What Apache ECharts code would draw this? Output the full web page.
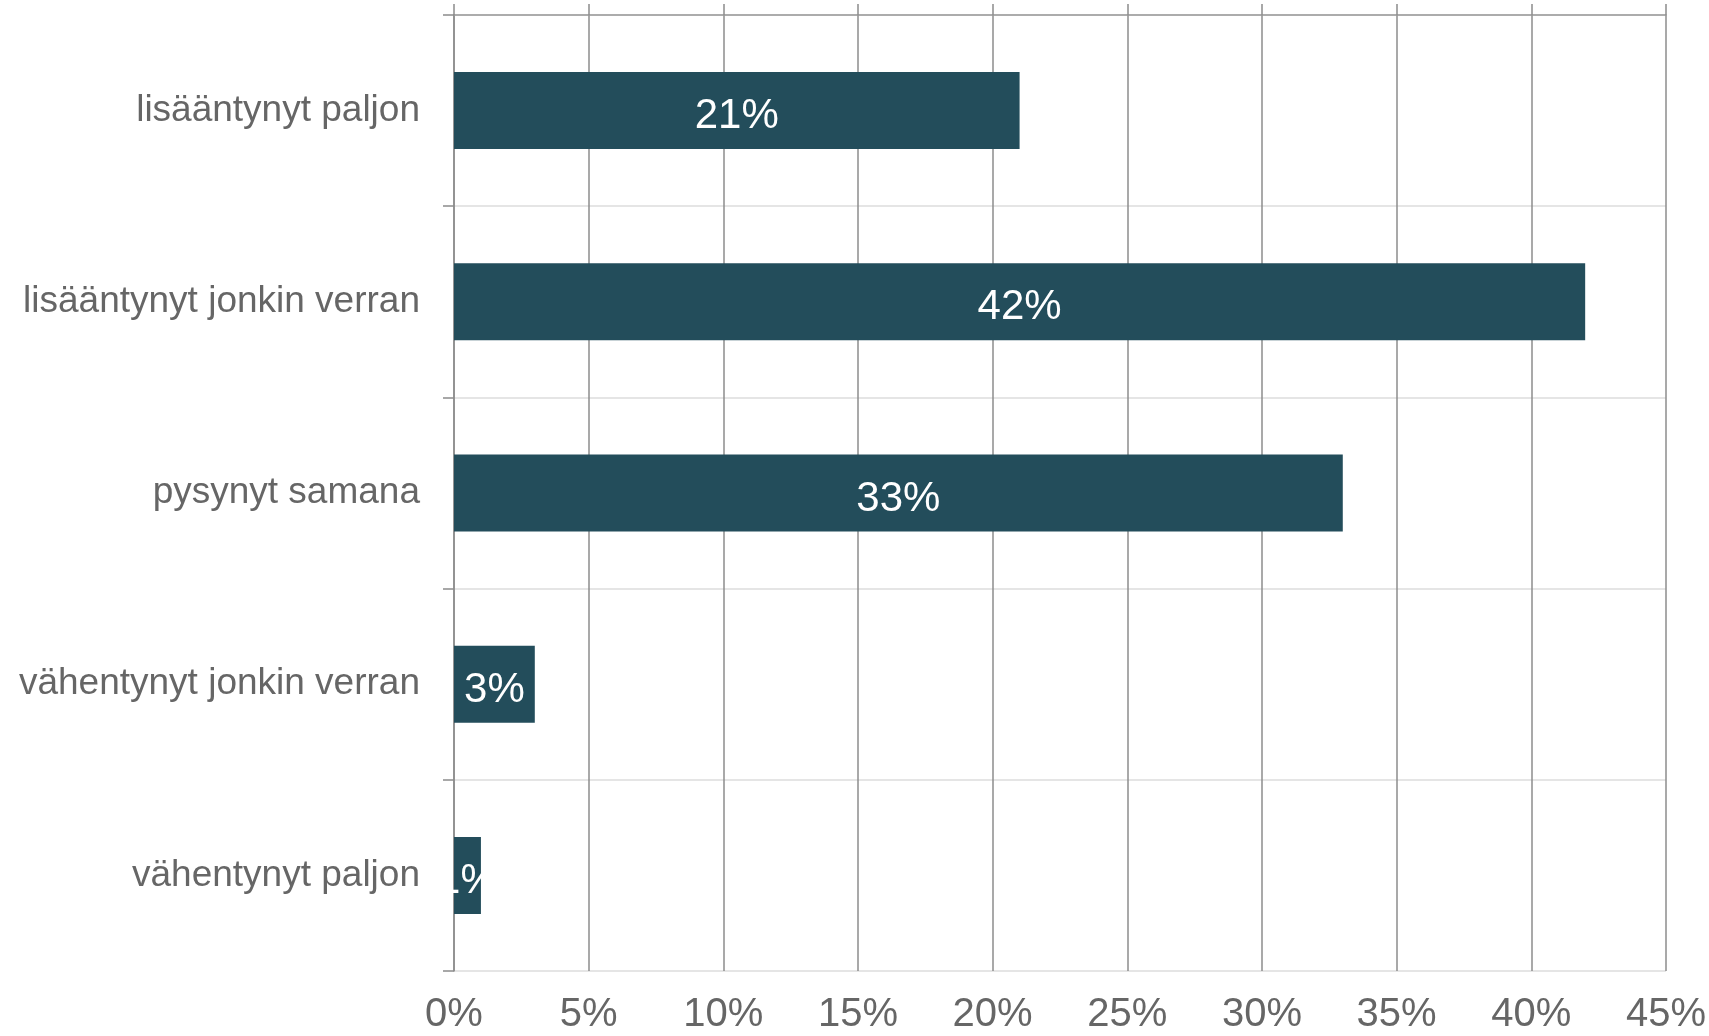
<!DOCTYPE html>
<html>
<head>
<meta charset="utf-8">
<script src="https://cdn.jsdelivr.net/npm/echarts@6/dist/echarts.min.js"></script>
<style>
html,body{margin:0;padding:0;background:#fff;}
#chart{width:1709px;height:1036px;}
</style>
</head>
<body>
<div id="chart"></div>
<script>
const categories = ["lisääntynyt paljon", "lisääntynyt jonkin verran", "pysynyt samana", "vähentynyt jonkin verran", "vähentynyt paljon"];
const values = [21, 42, 33, 3, 1];
const xTickLabels = ["0%", "5%", "10%", "15%", "20%", "25%", "30%", "35%", "40%", "45%"];

const chart = echarts.init(document.getElementById('chart'));
const font = '"Liberation Sans", Arial, sans-serif';
chart.setOption({
  animation: false,
  grid: {left: 454, right: 42, top: 15, bottom: 65, containLabel: false},
  xAxis: [
    {
      type: 'value', min: 0, max: 45, interval: 5, position: 'bottom',
      axisLine: {show: false}, axisTick: {show: false},
      splitLine: {show: true, lineStyle: {color: '#8c8c8c', width: 1.5}},
      axisLabel: {
        fontSize: 40, color: '#666', fontFamily: font, margin: 24,
        formatter: function (v) { return xTickLabels[Math.round(v / 5)]; }
      }
    },
    {
      type: 'value', min: 0, max: 45, interval: 5, position: 'top',
      axisLine: {show: true, lineStyle: {color: '#999', width: 1.5}},
      axisTick: {show: true, length: 11, lineStyle: {color: '#8c8c8c', width: 1.5}},
      splitLine: {show: false}, axisLabel: {show: false}
    }
  ],
  yAxis: {
    type: 'category', inverse: true, data: categories,
    axisLine: {show: true, lineStyle: {color: '#8c8c8c', width: 1.5}},
    axisTick: {show: true, length: 11, lineStyle: {color: '#8c8c8c', width: 1.5}},
    splitLine: {show: true, lineStyle: {color: '#dcdcdc', width: 1.5}},
    axisLabel: {fontSize: 37, color: '#666', fontFamily: font, margin: 34, padding: [14, 0, 0, 0]}
  },
  series: [{
    type: 'bar', data: values, barWidth: 77, xAxisIndex: 0,
    itemStyle: {color: '#234D5B'},
    label: {
      show: true, position: 'inside', color: '#fff', fontSize: 42, fontFamily: font,
      offset: [0, 6],
      formatter: '{c}%'
    }
  }]
});
</script>
</body>
</html>
